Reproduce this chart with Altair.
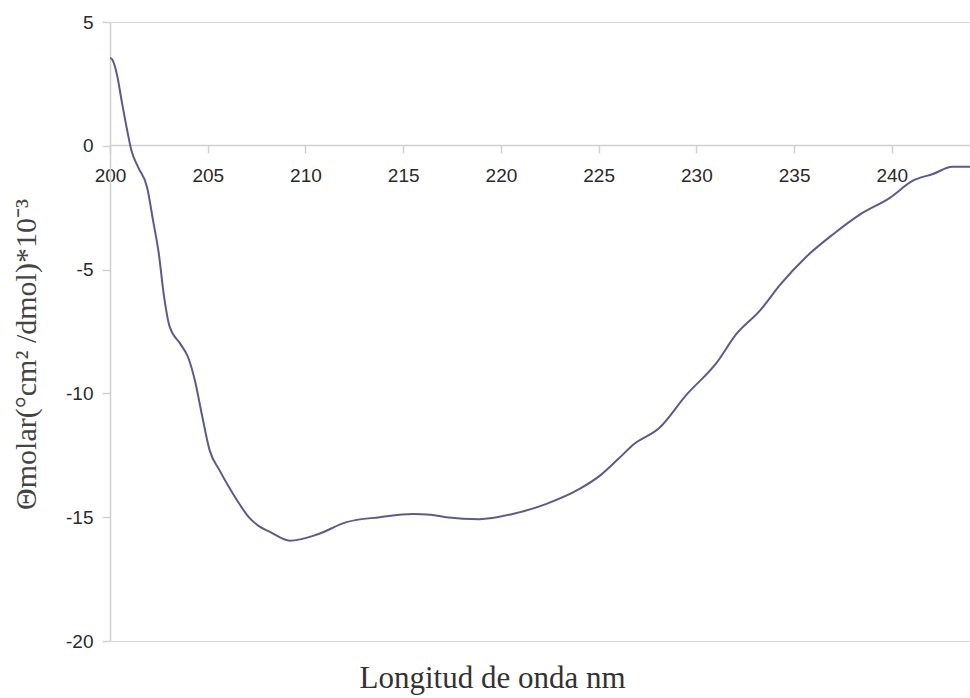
import altair as alt
import pandas as pd

# CD spectrum: wavelength (nm) vs molar ellipticity (x10^-3)
wavelength = [200.0, 200.1, 200.35, 200.6, 200.85, 201.1, 201.45, 201.9, 202.2, 202.5,
              202.75, 203.05, 203.6, 204.0, 204.35, 204.7, 205.1, 205.6, 206.1, 206.65,
              207.1, 207.6, 208.2, 209.2, 210.6, 212.1, 213.8, 215.5, 216.4, 217.2,
              218.9, 220.6, 222.3, 224.0, 225.1, 226.0, 226.8, 228.1, 229.5, 231.0,
              232.05, 233.25, 234.3, 235.6, 237.0, 238.4, 239.9, 241.1, 242.1, 243.1,
              244.0]
theta = [3.55, 3.5, 2.9, 1.8, 0.74, -0.2, -0.88, -1.68, -3.0, -4.37,
         -6.0, -7.3, -8.0, -8.55, -9.5, -10.85, -12.3, -13.1, -13.8, -14.5,
         -15.0, -15.35, -15.6, -15.95, -15.7, -15.2, -15.0, -14.87, -14.9, -15.0,
         -15.08, -14.87, -14.47, -13.87, -13.3, -12.65, -12.05, -11.4, -10.05, -8.8,
         -7.6, -6.66, -5.6, -4.5, -3.57, -2.76, -2.1, -1.4, -1.14, -0.85,
         -0.85]

x_ticks = [200, 205, 210, 215, 220, 225, 230, 235, 240]
y_ticks = [-20, -15, -10, -5, 0, 5]

df = pd.DataFrame({"wl": wavelength, "theta": theta})

axis_grey = "#d0d0d0"
label_color = "#2a2a2a"

chart = alt.Chart(df).mark_line(
    color="#5b5b8c", strokeWidth=2, interpolate="monotone", clip=True
).encode(
    x=alt.X(
        "wl:Q",
        scale=alt.Scale(domain=[200, 244], nice=False, zero=False),
        axis=alt.Axis(
            values=x_ticks, orient="bottom", offset=-496, grid=False,
            domainColor=axis_grey, domainWidth=1.5, tickColor=axis_grey,
            tickWidth=1.5, tickSize=8, labelPadding=13,
            labelFont="Liberation Sans", labelFontSize=19, labelColor=label_color,
            title="Longitud de onda nm", titleFont="Liberation Serif",
            titleFontSize=31, titleFontWeight="normal", titleColor="#333333",
            titleX=382, titleY=542, titleAlign="center",
            titleBaseline="alphabetic", labelFlush=False, labelOverlap=False,
        ),
    ),
    y=alt.Y(
        "theta:Q",
        scale=alt.Scale(domain=[-20, 5], nice=False, zero=False),
        axis=alt.Axis(
            values=y_ticks, grid=False, labelExpr="'' + datum.value",
            domainColor=axis_grey, domainWidth=1.5, tickColor=axis_grey,
            tickWidth=1.5, tickSize=8, labelPadding=9,
            labelFont="Liberation Sans", labelFontSize=19, labelColor=label_color,
            title="Θmolar(°cm² /dmol)*10⁻³", titleFont="Liberation Serif",
            titleFontSize=30, titleFontWeight="normal", titleColor="#444444",
            titleX=-75, titleY=332, titleAngle=-90, titleAlign="center",
            titleBaseline="alphabetic", labelOverlap=False,
        ),
    ),
).properties(
    width=860,
    height=619,
    autosize=alt.AutoSizeParams(type="none"),
    padding={"left": 110, "top": 22, "right": 0, "bottom": 57},
).configure_view(stroke=None).configure(background="white")

chart.save("out.html", embed_options={"renderer": "svg", "actions": False})
